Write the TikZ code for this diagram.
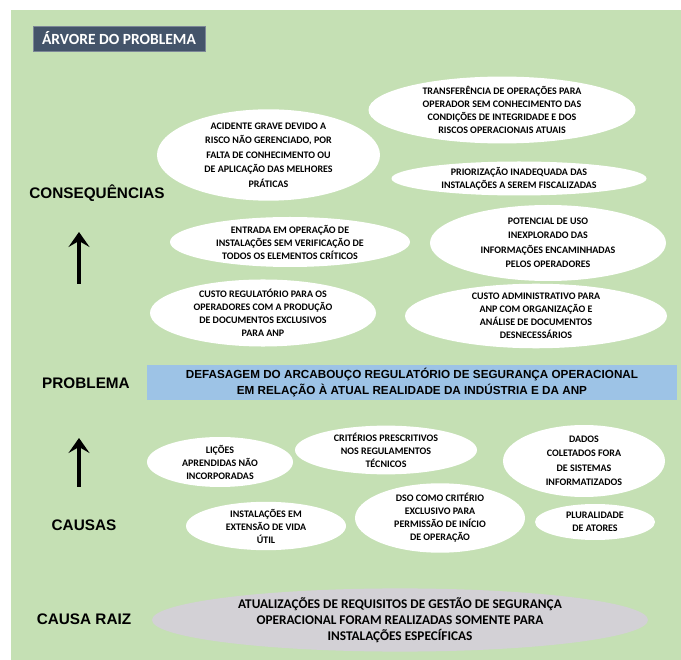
\documentclass[tikz,border=0pt]{standalone}
\usepackage{fontspec}
\setmainfont{Carlito}
\newfontfamily\labelfont{Liberation Sans}
\usetikzlibrary{shapes.geometric,arrows.meta}
\definecolor{bggreen}{HTML}{C5E0B4}
\definecolor{titlebox}{HTML}{44546A}
\definecolor{probblue}{HTML}{9DC3E6}
\definecolor{rootgrey}{HTML}{D3D1D6}
\begin{document}
\begin{tikzpicture}[x=1pt,y=-1pt,
  bubble/.style={ellipse,fill=white,inner sep=0pt,align=center,
    font=\bfseries\fontsize{10}{13}\selectfont},
  tallbubble/.style={bubble,font=\bfseries\fontsize{10}{14.5}\selectfont},
  rowlabel/.style={font=\labelfont\bfseries\fontsize{15.3}{17}\selectfont},
  uparrow/.style={line width=4pt,-{Stealth[length=15pt,width=21pt,inset=6pt]}}]
  \useasboundingbox (0,0) rectangle (681,660);
  \fill[white] (0,0) rectangle (681,660);
  \fill[bggreen] (11,10) rectangle (681,660);

  % title
  \node[fill=titlebox,draw=titlebox!70!white,line width=0.6pt,text=white,
        minimum width=172pt,minimum height=25pt,inner sep=0pt,
        font=\bfseries\fontsize{15.5}{17}\selectfont] (title) at (119,38.5) {ÁRVORE DO PROBLEMA};

  % row labels
  \node[rowlabel] (lcons) at (97,193) {CONSEQUÊNCIAS};
  \node[rowlabel] (lprob) at (86,383) {PROBLEMA};
  \node[rowlabel] (lcaus) at (84,525) {CAUSAS};
  \node[rowlabel] (lroot) at (84,619) {CAUSA RAIZ};

  % arrows
  \coordinate (a1s) at (79,284);
  \coordinate (a1e) at (79,232);
  \coordinate (a2s) at (79,487);
  \coordinate (a2e) at (79,438);
  \draw[uparrow] (a1s) -- (a1e);
  \draw[uparrow] (a2s) -- (a2e);

  % consequences
  \node[bubble,minimum width=267pt,minimum height=62pt] (c1) at (502,110)
    {TRANSFERÊNCIA DE OPERAÇÕES PARA\\OPERADOR SEM CONHECIMENTO DAS\\CONDIÇÕES DE INTEGRIDADE E DOS\\RISCOS OPERACIONAIS ATUAIS};
  \node[tallbubble,minimum width=223pt,minimum height=80pt] (c2) at (268.5,155)
    {ACIDENTE GRAVE DEVIDO A\\RISCO NÃO GERENCIADO, POR\\FALTA DE CONHECIMENTO OU\\DE APLICAÇÃO DAS MELHORES\\PRÁTICAS};
  \node[bubble,minimum width=255pt,minimum height=34pt] (c3) at (519,178.5)
    {PRIORIZAÇÃO INADEQUADA DAS\\INSTALAÇÕES A SEREM FISCALIZADAS};
  \node[bubble,minimum width=240pt,minimum height=50pt] (c4) at (290,242)
    {ENTRADA EM OPERAÇÃO DE\\INSTALAÇÕES SEM VERIFICAÇÃO DE\\TODOS OS ELEMENTOS CRÍTICOS};
  \node[tallbubble,minimum width=236pt,minimum height=76pt] (c5) at (548,243)
    {POTENCIAL DE USO\\INEXPLORADO DAS\\INFORMAÇÕES ENCAMINHADAS\\PELOS OPERADORES};
  \node[bubble,minimum width=226pt,minimum height=56pt] (c6) at (263,313)
    {CUSTO REGULATÓRIO PARA OS\\OPERADORES COM A PRODUÇÃO\\DE DOCUMENTOS EXCLUSIVOS\\PARA ANP};
  \node[bubble,minimum width=262pt,minimum height=58pt] (c7) at (536,316)
    {CUSTO ADMINISTRATIVO PARA\\ANP COM ORGANIZAÇÃO E\\ANÁLISE DE DOCUMENTOS\\DESNECESSÁRIOS};

  % problem
  \node[fill=probblue,minimum width=530pt,minimum height=35pt,inner sep=0pt,align=center,
        font=\labelfont\bfseries\fontsize{11.7}{16}\selectfont] (prob) at (412,383)
    {DEFASAGEM DO ARCABOUÇO REGULATÓRIO DE SEGURANÇA OPERACIONAL\\EM RELAÇÃO À ATUAL REALIDADE DA INDÚSTRIA E DA ANP};

  % causes
  \node[bubble,minimum width=146pt,minimum height=50pt] (k1) at (220,462)
    {LIÇÕES\\APRENDIDAS NÃO\\INCORPORADAS};
  \node[bubble,minimum width=182pt,minimum height=40pt] (k2) at (386,450)
    {CRITÉRIOS PRESCRITIVOS\\NOS REGULAMENTOS\\TÉCNICOS};
  \node[tallbubble,minimum width=162pt,minimum height=72pt] (k3) at (584,461)
    {DADOS\\COLETADOS FORA\\DE SISTEMAS\\INFORMATIZADOS};
  \node[bubble,minimum width=160pt,minimum height=44pt] (k4) at (266,526)
    {INSTALAÇÕES EM\\EXTENSÃO DE VIDA\\ÚTIL};
  \node[bubble,minimum width=170pt,minimum height=60pt] (k5) at (440,518)
    {DSO COMO CRITÉRIO\\EXCLUSIVO PARA\\PERMISSÃO DE INÍCIO\\DE OPERAÇÃO};
  \node[bubble,minimum width=120pt,minimum height=36pt] (k6) at (595,522)
    {PLURALIDADE\\DE ATORES};

  % root cause
  \node[ellipse,fill=rootgrey,minimum width=496pt,minimum height=52pt,inner sep=0pt,align=center,
        font=\bfseries\fontsize{13.3}{15.8}\selectfont] (root) at (400,620)
    {ATUALIZAÇÕES DE REQUISITOS DE GESTÃO DE SEGURANÇA\\OPERACIONAL FORAM REALIZADAS SOMENTE PARA\\INSTALAÇÕES ESPECÍFICAS};
\end{tikzpicture}
\end{document}
